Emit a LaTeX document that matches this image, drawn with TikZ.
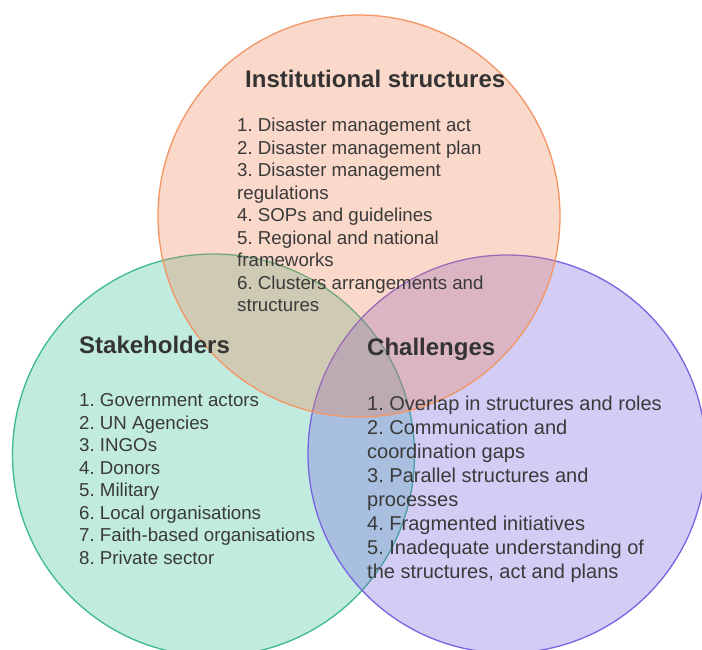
\documentclass[tikz,border=0pt]{standalone}
\usepackage{fontspec}
\setmainfont{Liberation Sans}
\frenchspacing
\definecolor{instfill}{RGB}{240,128,82}
\definecolor{instline}{RGB}{243,150,100}
\definecolor{stakefill}{RGB}{52,190,150}
\definecolor{stakeline}{RGB}{60,186,140}
\definecolor{chalfill}{RGB}{112,92,226}
\definecolor{challine}{RGB}{120,100,226}
\definecolor{ink}{RGB}{58,58,58}
\begin{document}
\begin{tikzpicture}[x=1pt,y=-1pt,
  setcircle/.style={draw=#1line, line width=1.3pt, fill=#1fill, fill opacity=0.3, draw opacity=1},
  heading/.style={anchor=base west, inner sep=0pt, text=ink!90!black,
    font=\bfseries\fontsize{24}{28}\selectfont},
  % lists are anchored at the baseline of their last line
  itemlist/.style={anchor=base west, inner sep=0pt, text=ink, align=left,
    font=\fontsize{18.7}{22.5}\selectfont},
  biglist/.style={itemlist, font=\fontsize{20}{24}\selectfont}]
\useasboundingbox (0,0) rectangle (702,650);
\begin{scope}
\clip (0,0) rectangle (702,650);
\fill[white] (0,0) rectangle (702,650);
% stacking order: stakeholders, challenges, institutional structures
\path[setcircle=stake] (213.5,455) circle[radius=201];
\path[setcircle=chal]  (507,454) circle[radius=199];
\path[setcircle=inst]  (359,216) circle[radius=201];
\end{scope}

\node[heading] (insttitle) at (245,88) {Institutional structures};
\node[itemlist] (instlist) at (237,311.7) {1. Disaster management act\\
2. Disaster management plan\\
3. Disaster management\\
regulations\\
4. SOPs and guidelines\\
5. Regional and national\\
frameworks\\
6. Clusters arrangements and\\
structures};

\node[heading] (staketitle) at (79,353.3) {Stakeholders};
\node[itemlist] (stakelist) at (79,564.2) {1. Government actors\\
2. UN Agencies\\
3. INGOs\\
4. Donors\\
5. Military\\
6. Local organisations\\
7. Faith-based organisations\\
8. Private sector};

\node[heading] (chaltitle) at (367,355) {Challenges};
\node[biglist] (challist) at (367,578) {1. Overlap in structures and roles\\
2. Communication and\\
coordination gaps\\
3. Parallel structures and\\
processes\\
4. Fragmented initiatives\\
5. Inadequate understanding of\\
the structures, act and plans};
\end{tikzpicture}
\end{document}
